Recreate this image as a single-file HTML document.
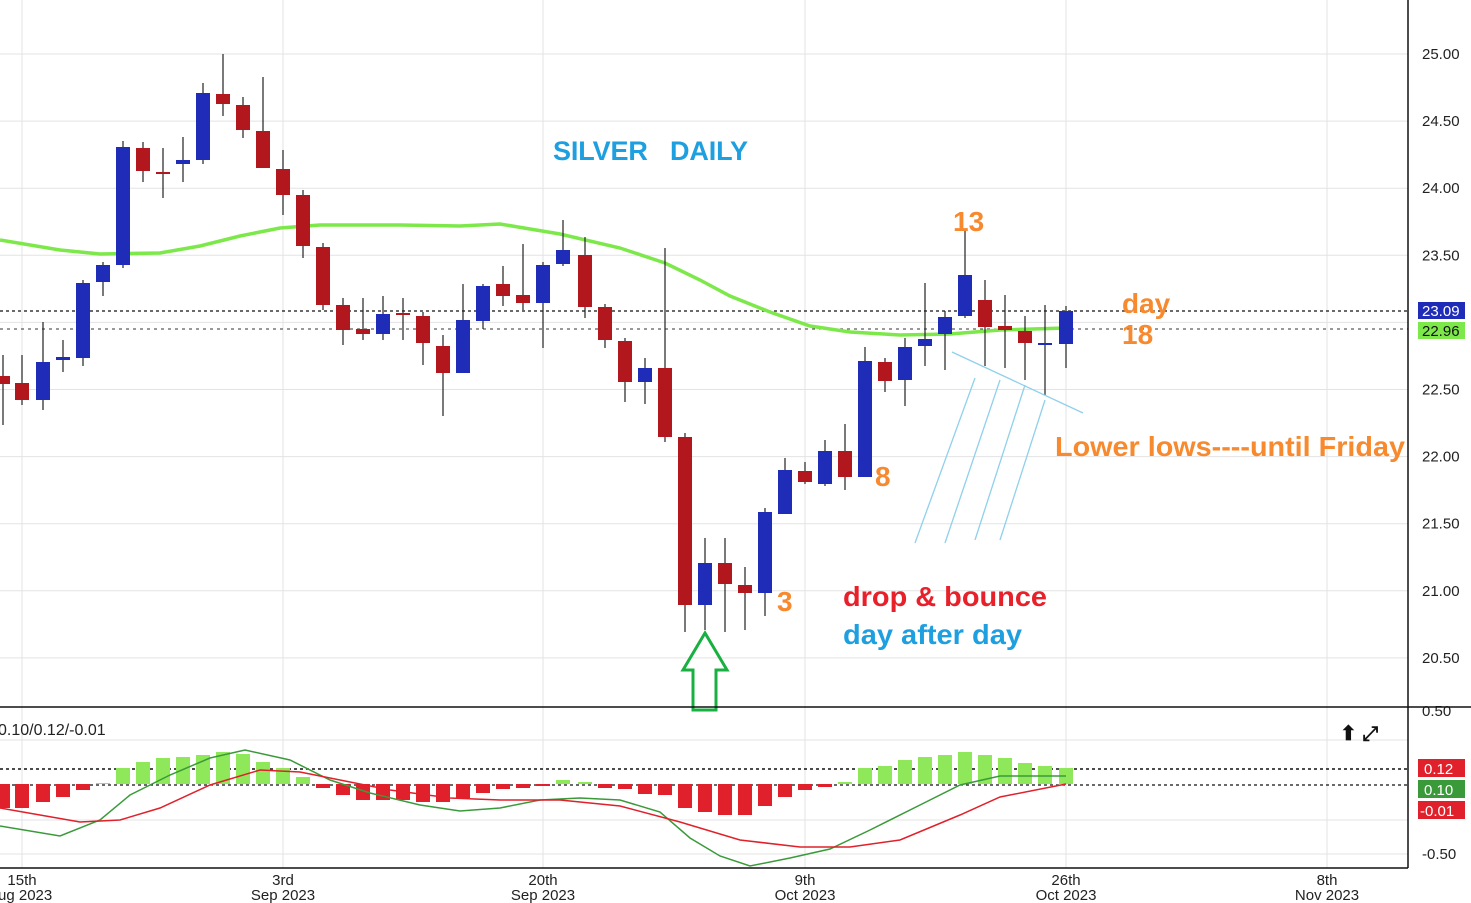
<!DOCTYPE html>
<html><head><meta charset="utf-8"><style>
html,body{margin:0;padding:0;background:#fff;}
svg{display:block;font-family:"Liberation Sans",sans-serif;}
text{white-space:pre;}
</style></head><body>
<svg id="s" width="1471" height="903" viewBox="0 0 1471 903" xmlns="http://www.w3.org/2000/svg">
<rect width="1471" height="903" fill="#fff"/>
<g id="grid" stroke="#e3e3e3" stroke-width="1"></g>
<g id="g"></g>
</svg>
<script>
const NS="http://www.w3.org/2000/svg";
const s=document.getElementById('s'),G=document.getElementById('g'),GR=document.getElementById('grid');
function el(p,t,a,txt){const e=document.createElementNS(NS,t);for(const k in a)e.setAttribute(k,a[k]);if(txt!=null)e.textContent=txt;p.appendChild(e);return e;}
[22,283,543,805,1066,1327].forEach(x=>{el(GR,'line',{x1:x,y1:0,x2:x,y2:868});});
for(let i=0;i<10;i++){const y=54+i*67.1;el(GR,'line',{x1:0,y1:y,x2:1408,y2:y});}
[740,820,854].forEach(y=>el(GR,'line',{x1:0,y1:y,x2:1408,y2:y}));
const pl=["25.00","24.50","24.00","23.50","23.00","22.50","22.00","21.50","21.00","20.50"];
pl.forEach((t,i)=>{if(t!="23.00")el(G,'text',{x:1422,y:54+i*67.1+5,'font-size':15,fill:'#222'},t);});
el(G,'line',{x1:0,y1:311,x2:1408,y2:311,stroke:'#111','stroke-dasharray':'3,3','stroke-width':1.3});
el(G,'line',{x1:0,y1:329,x2:1408,y2:329,stroke:'#333','stroke-dasharray':'3,4','stroke-width':1});
const ma=[[0,240],[60,250],[100,254],[160,253],[200,246],[240,236],[280,228],[320,225],[400,225],[460,226],[500,224],[560,234],[620,248],[665,263],[700,280],[730,296],[770,312],[810,326],[850,332],[900,335],[950,334],[1000,330],[1066,328]];
el(G,'polyline',{points:ma.map(p=>p.join(',')).join(' '),fill:'none',stroke:'#7de84a','stroke-width':3.5});
const c=[[3,376,384,355,425,'r'],[22,383,400,355,405,'r'],[43,362,400,322,410,'b'],[63,357,360,340,372,'b'],[83,283,358,280,366,'b'],[103,265,282,262,296,'b'],[123,147,265,141,268,'b'],[143,148,171,142,182,'r'],[163,172,174,148,198,'r'],[183,160,164,137,182,'b'],[203,93,160,83,164,'b'],[223,94,104,54,116,'r'],[243,105,130,97,138,'r'],[263,131,168,77,168,'r'],[283,169,195,150,215,'r'],[303,195,246,190,258,'r'],[323,247,305,243,310,'r'],[343,305,330,298,345,'r'],[363,329,334,298,340,'r'],[383,314,334,296,340,'b'],[403,313,315,298,340,'r'],[423,316,343,312,365,'r'],[443,346,373,335,416,'r'],[463,320,373,284,373,'b'],[483,286,321,284,329,'b'],[503,284,296,266,306,'r'],[523,295,303,244,310,'r'],[543,265,303,262,348,'b'],[563,250,264,220,266,'b'],[585,255,307,237,318,'r'],[605,307,340,304,348,'r'],[625,341,382,338,402,'r'],[645,368,382,358,404,'b'],[665,368,437,248,442,'r'],[685,437,605,433,632,'r'],[705,563,605,538,630,'b'],[725,563,584,538,632,'r'],[745,585,593,567,630,'r'],[765,512,593,508,616,'b'],[785,470,514,458,514,'b'],[805,471,482,462,484,'r'],[825,451,484,440,486,'b'],[845,451,477,424,490,'r'],[865,361,477,347,477,'b'],[885,362,381,358,392,'r'],[905,347,380,338,406,'b'],[925,339,346,283,366,'b'],[945,317,334,311,370,'b'],[965,275,316,230,318,'b'],[985,300,327,280,366,'r'],[1005,326,330,295,368,'r'],[1025,331,343,316,380,'r'],[1045,343,345,305,395,'b'],[1066,311,344,306,368,'b']];
c.forEach(k=>{const col=k[5]=='r'?'#b3171e':'#1f2cb8';
el(G,'line',{x1:k[0],y1:k[3],x2:k[0],y2:k[4],stroke:'#222','stroke-width':1.2});
el(G,'rect',{x:k[0]-7,y:k[1],width:14,height:Math.max(2,k[2]-k[1]),fill:col});});
el(G,'text',{x:553,y:160,'font-size':27,'font-weight':'bold',fill:'#1e9fe0',textLength:195,lengthAdjust:'spacing'},"SILVER   DAILY");
const or='#f7892e';
el(G,'text',{x:953,y:231,'font-size':28,'font-weight':'bold',fill:or},"13");
el(G,'text',{x:1122,y:313,'font-size':28,'font-weight':'bold',fill:or},"day");
el(G,'text',{x:1122,y:344,'font-size':28,'font-weight':'bold',fill:or},"18");
el(G,'text',{x:1055,y:456,'font-size':28,'font-weight':'bold',fill:or,textLength:350,lengthAdjust:'spacingAndGlyphs'},"Lower lows----until Friday");
el(G,'text',{x:875,y:486,'font-size':28,'font-weight':'bold',fill:or},"8");
el(G,'text',{x:777,y:611,'font-size':28,'font-weight':'bold',fill:or},"3");
el(G,'text',{x:843,y:606,'font-size':28,'font-weight':'bold',fill:'#e8202a',textLength:204,lengthAdjust:'spacingAndGlyphs'},"drop & bounce");
el(G,'text',{x:843,y:644,'font-size':28,'font-weight':'bold',fill:'#1e9fe0',textLength:179,lengthAdjust:'spacingAndGlyphs'},"day after day");
const lb='#8fd0ec';
[[952,352,1083,413],[915,543,975,378],[945,543,1000,380],[975,540,1025,385],[1000,540,1045,400]].forEach(l=>el(G,'line',{x1:l[0],y1:l[1],x2:l[2],y2:l[3],stroke:lb,'stroke-width':1.3}));
el(G,'polygon',{points:"705,633 727,670 716,670 716,710 693,710 693,670 683,670",fill:'none',stroke:'#18b040','stroke-width':3});
el(G,'rect',{x:1418,y:302,width:47,height:17,fill:'#1f2cb8'});
el(G,'text',{x:1422,y:316,'font-size':15,fill:'#fff'},"23.09");
el(G,'rect',{x:1418,y:322,width:47,height:17,fill:'#7de84a'});
el(G,'text',{x:1422,y:336,'font-size':15,fill:'#111'},"22.96");
el(G,'line',{x1:0,y1:769,x2:1408,y2:769,stroke:'#111','stroke-dasharray':'3,3','stroke-width':1.5});
el(G,'line',{x1:0,y1:785,x2:1408,y2:785,stroke:'#111','stroke-dasharray':'3,3','stroke-width':1.2});
const h=[[3,808],[22,808],[43,802],[63,797],[83,790],[103,783],[123,768],[143,762],[163,758],[183,757],[203,755],[223,752],[243,754],[263,762],[283,768],[303,777],[323,788],[343,795],[363,800],[383,800],[403,800],[423,802],[443,802],[463,798],[483,793],[503,789],[523,788],[543,786],[563,780],[585,782],[605,788],[625,789],[645,794],[665,795],[685,808],[705,812],[725,815],[745,815],[765,806],[785,797],[805,790],[825,787],[845,782],[865,768],[885,766],[905,760],[925,757],[945,755],[965,752],[985,755],[1005,758],[1025,763],[1045,766],[1066,768]];
h.forEach(b=>{const z=784;if(b[1]<z)el(G,'rect',{x:b[0]-7,y:b[1],width:14,height:z-b[1],fill:'#8ee85a'});else el(G,'rect',{x:b[0]-7,y:z,width:14,height:b[1]-z,fill:'#e0202a'});});
const fl=[[0,826],[60,836],[100,820],[130,795],[170,775],[210,758],[245,750],[290,760],[330,780],[370,793],[420,805],[460,811],[500,808],[540,800],[580,798],[620,800],[660,812],[690,838],[720,856],[750,866],[790,858],[830,849],[870,830],[920,805],[960,785],[1000,776],[1066,776]];
const sl=[[0,808],[40,815],[80,822],[120,820],[160,808],[210,785],[260,770],[300,772],[340,780],[390,790],[450,798],[500,800],[560,800],[620,806],[680,822],[740,840],[800,847],[850,847],[900,840],[960,815],[1000,797],[1066,784]];
el(G,'polyline',{points:fl.map(p=>p.join(',')).join(' '),fill:'none',stroke:'#3a9a3a','stroke-width':1.5});
el(G,'polyline',{points:sl.map(p=>p.join(',')).join(' '),fill:'none',stroke:'#e0202a','stroke-width':1.5});
el(G,'text',{x:-2,y:735,'font-size':16,fill:'#222'},"0.10/0.12/-0.01");
el(G,'text',{x:1340,y:740,'font-size':20,fill:'#111','font-weight':'bold'},"⬆ ⤢");
el(G,'rect',{x:1418,y:759,width:47,height:18,fill:'#e0202a'});
el(G,'text',{x:1424,y:774,'font-size':15,fill:'#fff'},"0.12");
el(G,'rect',{x:1418,y:780,width:47,height:18,fill:'#3a9a3a'});
el(G,'text',{x:1424,y:795,'font-size':15,fill:'#fff'},"0.10");
el(G,'rect',{x:1418,y:801,width:47,height:18,fill:'#e0202a'});
el(G,'text',{x:1420,y:816,'font-size':15,fill:'#fff'},"-0.01");
el(G,'text',{x:1422,y:716,'font-size':15,fill:'#222'},"0.50");
el(G,'text',{x:1422,y:859,'font-size':15,fill:'#222'},"-0.50");
el(G,'line',{x1:1408,y1:0,x2:1408,y2:868,stroke:'#111','stroke-width':1.5});
el(G,'line',{x1:0,y1:707,x2:1471,y2:707,stroke:'#111','stroke-width':1.5});
el(G,'line',{x1:0,y1:868,x2:1408,y2:868,stroke:'#111','stroke-width':1.5});
[["15th","ug 2023",22],["3rd","Sep 2023",283],["20th","Sep 2023",543],["9th","Oct 2023",805],["26th","Oct 2023",1066],["8th","Nov 2023",1327]].forEach(a=>{
el(G,'text',{x:a[2],y:885,'font-size':15,fill:'#222','text-anchor':'middle'},a[0]);
if(a[2]==22)el(G,'text',{x:-2,y:900,'font-size':15,fill:'#222'},a[1]);
else el(G,'text',{x:a[2],y:900,'font-size':15,fill:'#222','text-anchor':'middle'},a[1]);});
</script>
</body></html>
